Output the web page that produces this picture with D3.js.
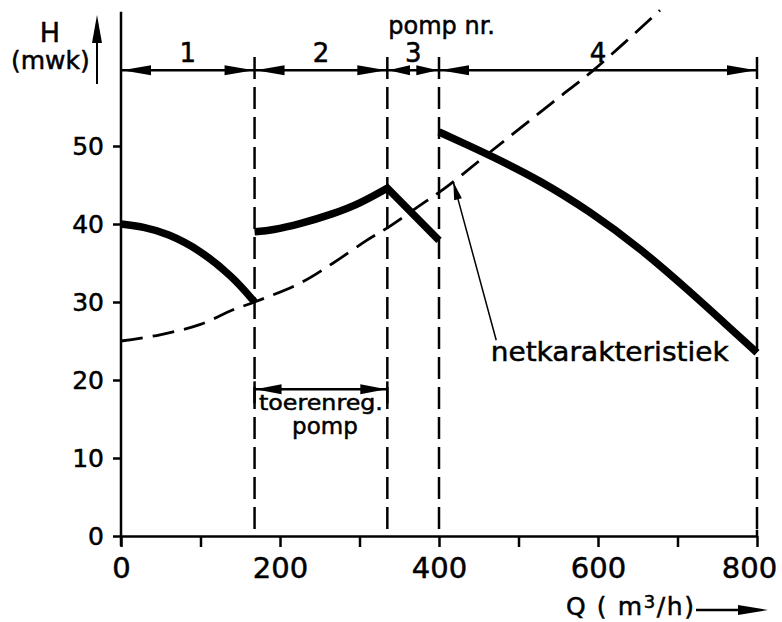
<!DOCTYPE html>
<html>
<head>
<meta charset="utf-8">
<script src="https://cdn.jsdelivr.net/npm/d3@7"></script>
<style>
  body { margin: 0; background: #fff; }
  text { font-family: "DejaVu Sans", sans-serif; fill: #000; stroke: #000; stroke-width: 0.5px; }
</style>
</head>
<body>
<div id="container"></div>
<script>
/* CONSTANTS AND GLOBALS */
const width = 782,
  height = 622,
  margin = { top: 68, bottom: 86, left: 121, right: 25 };

// pump ranges on the Q axis (m3/h)
const boundaries = [0, 168, 335, 400, 800];
const pumpNames = ["1", "2", "3", "4"];

// pump curves [Q, H]
const pump1 = [[0, 40.0], [30, 39.6], [58, 38.8], [99, 36.7], [141, 33.2], [168, 30.0]];
const pump2 = [[168, 39.0], [190, 39.2], [225, 40.0], [267, 41.3], [300, 42.6], [335, 44.6]];
const pump3 = [[335, 44.6], [400, 37.9]];
const pump4 = [[400, 51.8], [430, 50.4], [464, 48.8], [527, 45.6], [590, 41.6], [653, 36.9], [716, 31.3], [757, 27.5], [800, 23.5]];

// netkarakteristiek (dashed)
const netCurve = [[0, 25.0], [49, 25.8], [99, 27.1], [141, 29.0], [168, 30.0], [225, 32.4], [267, 35.0], [309, 37.9], [335, 39.5], [372, 42.1], [410, 44.8], [464, 49.2], [543, 55.6], [594, 59.7], [678, 67.4]];

// ticks
const xTicks = [0, 100, 200, 300, 400, 500, 600, 700, 800];
const xLabels = [0, 200, 400, 600, 800];
const yTicks = [0, 10, 20, 30, 40, 50];

// annotation levels (H) and the pointer of the label
const bracketH = 59.7;
const regBracketH = 18.8;
const regRange = [168, 335];
const netLabel = { q: 465, h: 22.4, text: "netkarakteristiek" };
const netArrow = { from: [472, 25.1], to: [418, 45.4] };

/* SCALES */
const xScale = d3.scaleLinear().domain([0, 800]).range([margin.left, width - margin.right]);
const yScale = d3.scaleLinear().domain([0, 60]).range([height - margin.bottom, margin.top]);

const svg = d3.select("#container").append("svg")
  .attr("width", width)
  .attr("height", height);

svg.append("rect").attr("width", width).attr("height", height).attr("fill", "#fff");

// filled arrow head, tip at (x, y), pointing in direction (dx, dy)
function arrowHead(g, x, y, dx, dy, len, half) {
  const n = Math.hypot(dx, dy), ux = dx / n, uy = dy / n;
  const bx = x - ux * len, by = y - uy * len;
  g.append("path")
    .attr("d", `M${x},${y}L${bx - uy * half},${by + ux * half}L${bx + uy * half},${by - ux * half}Z`)
    .attr("fill", "#000");
}

/* AXES */
const xAxis = d3.axisBottom(xScale)
  .tickValues(xTicks)
  .tickSize(11)
  .tickSizeOuter(0)
  .tickPadding(10)
  .tickFormat(d => xLabels.includes(d) ? d : "");

const yAxis = d3.axisLeft(yScale)
  .tickValues(yTicks)
  .tickSize(8)
  .tickSizeOuter(0)
  .tickPadding(9);

const xAxisGroup = svg.append("g")
  .attr("transform", `translate(0, ${yScale(0)})`)
  .call(xAxis);
xAxisGroup.select(".domain").attr("stroke-width", 2.5);
xAxisGroup.selectAll(".tick line").attr("stroke-width", 2.5);
xAxisGroup.selectAll("text")
  .attr("font-family", "DejaVu Sans")
  .style("font-size", "29px")
  .attr("dx", d => d === 800 ? -8 : 0);

const yAxisGroup = svg.append("g")
  .attr("transform", `translate(${xScale(0)}, 0)`)
  .call(yAxis);
yAxisGroup.select(".domain").remove();
yAxisGroup.selectAll(".tick line").attr("stroke-width", 2.5);
yAxisGroup.selectAll("text")
  .attr("font-family", "DejaVu Sans")
  .style("font-size", "25px");

// y axis line runs up past the plot
svg.append("line")
  .attr("x1", xScale(0)).attr("x2", xScale(0))
  .attr("y1", yScale(67.2)).attr("y2", yScale(0) + 10)
  .attr("stroke", "#000").attr("stroke-width", 2.5);

// small upward tick at 800
svg.append("line")
  .attr("x1", xScale(800)).attr("x2", xScale(800))
  .attr("y1", yScale(0.8)).attr("y2", yScale(0))
  .attr("stroke", "#000").attr("stroke-width", 2.5);

/* AXIS TITLES */
svg.append("text").attr("x", 50).attr("y", 42)
  .attr("text-anchor", "middle").style("font-size", "27px").text("H");
svg.append("text").attr("x", 11).attr("y", 69)
  .style("font-size", "25px").text("(mwk)");
const yArrow = svg.append("g");
yArrow.append("line").attr("x1", 97).attr("x2", 97).attr("y1", 84).attr("y2", 30)
  .attr("stroke", "#000").attr("stroke-width", 2);
arrowHead(yArrow, 97, 15, 0, -1, 28, 5);

const xTitle = svg.append("text").attr("x", 566).attr("y", 615).style("font-size", "25px")
  .attr("textLength", 128).attr("lengthAdjust", "spacing");
xTitle.append("tspan").text("Q ( m");
xTitle.append("tspan").attr("dy", -7).style("font-size", "18px").text("3");
xTitle.append("tspan").attr("dy", 7).text("/h)");
const xArrow = svg.append("g");
xArrow.append("line").attr("x1", 696).attr("x2", 745).attr("y1", 610).attr("y2", 610)
  .attr("stroke", "#000").attr("stroke-width", 2.5);
arrowHead(xArrow, 768, 610, 1, 0, 30, 5);

/* DASHED BOUNDARIES */
svg.selectAll(".bound")
  .data(boundaries.slice(1))
  .join("line")
  .attr("class", "bound")
  .attr("x1", d => xScale(d)).attr("x2", d => xScale(d))
  .attr("y1", yScale(61.4)).attr("y2", yScale(0))
  .attr("stroke", "#000").attr("stroke-width", 2.5)
  .attr("stroke-dasharray", "22,8");

/* TOP BRACKET "pomp nr." */
const yB = yScale(bracketH);
const bracket = svg.append("g");
d3.pairs(boundaries).forEach(([a, b], i) => {
  const xa = xScale(a), xb = xScale(b);
  const len = Math.min(29, (xb - xa) * 0.42);
  bracket.append("line").attr("x1", xa).attr("x2", xb).attr("y1", yB).attr("y2", yB)
    .attr("stroke", "#000").attr("stroke-width", 2.5);
  arrowHead(bracket, xa + 1, yB, -1, 0, len, 5);
  arrowHead(bracket, xb - 1, yB, 1, 0, len, 5);
  bracket.append("text")
    .attr("x", (xa + xb) / 2).attr("y", yB - 8)
    .attr("text-anchor", "middle").style("font-size", "26px")
    .text(pumpNames[i]);
});
svg.append("text").attr("x", xScale(335) + 1).attr("y", 34)
  .style("font-size", "24px").text("pomp nr.");

/* TOERENREGELING BRACKET */
const yR = yScale(regBracketH);
const reg = svg.append("g");
reg.append("line").attr("x1", xScale(regRange[0])).attr("x2", xScale(regRange[1]))
  .attr("y1", yR).attr("y2", yR).attr("stroke", "#000").attr("stroke-width", 2.5);
arrowHead(reg, xScale(regRange[0]) + 1, yR, -1, 0, 26, 5);
arrowHead(reg, xScale(regRange[1]) - 1, yR, 1, 0, 26, 5);
regRange.forEach(q => {
  reg.append("line").attr("x1", xScale(q)).attr("x2", xScale(q))
    .attr("y1", yR - 8).attr("y2", yR + 14)
    .attr("stroke", "#000").attr("stroke-width", 2.5);
});
const regMid = (xScale(regRange[0]) + xScale(regRange[1])) / 2;
reg.append("text").attr("x", regMid).attr("y", yR + 21)
  .attr("text-anchor", "middle").style("font-size", "21px")
  .attr("textLength", 124).attr("lengthAdjust", "spacingAndGlyphs")
  .text("toerenreg.");
reg.append("text").attr("x", regMid + 4).attr("y", yR + 45)
  .attr("text-anchor", "middle").style("font-size", "23px").text("pomp");

/* CURVES */
const lineGen = d3.line()
  .x(d => xScale(d[0]))
  .y(d => yScale(d[1]))
  .curve(d3.curveCatmullRom.alpha(0.5));

// smoother generator for the pump curves
const pumpGen = d3.line()
  .x(d => xScale(d[0]))
  .y(d => yScale(d[1]))
  .curve(d3.curveBasis);

svg.append("path")
  .attr("d", lineGen(netCurve))
  .attr("fill", "none").attr("stroke", "#000").attr("stroke-width", 2.8)
  .attr("stroke-dasharray", "22,10");

const pumpPath = pumpGen(pump2) + pump3.slice(1).map(d => `L${xScale(d[0])},${yScale(d[1])}`).join("");

svg.selectAll(".pump")
  .data([pumpGen(pump1), pumpPath, pumpGen(pump4)])
  .join("path")
  .attr("class", "pump")
  .attr("d", d => d)
  .attr("fill", "none")
  .attr("stroke", "#000")
  .attr("stroke-width", 7.5)
  .attr("stroke-linejoin", "miter");

/* NETKARAKTERISTIEK LABEL */
svg.append("text")
  .attr("x", xScale(netLabel.q)).attr("y", yScale(netLabel.h))
  .style("font-size", "27px")
  .attr("textLength", 238).attr("lengthAdjust", "spacingAndGlyphs")
  .text(netLabel.text);

const ax1 = xScale(netArrow.from[0]), ay1 = yScale(netArrow.from[1]);
const ax2 = xScale(netArrow.to[0]), ay2 = yScale(netArrow.to[1]);
const pointer = svg.append("g");
pointer.append("line")
  .attr("x1", ax1).attr("y1", ay1).attr("x2", ax2).attr("y2", ay2)
  .attr("stroke", "#000").attr("stroke-width", 1.5);
arrowHead(pointer, ax2, ay2, ax2 - ax1, ay2 - ay1, 18, 4);
</script>
</body>
</html>
